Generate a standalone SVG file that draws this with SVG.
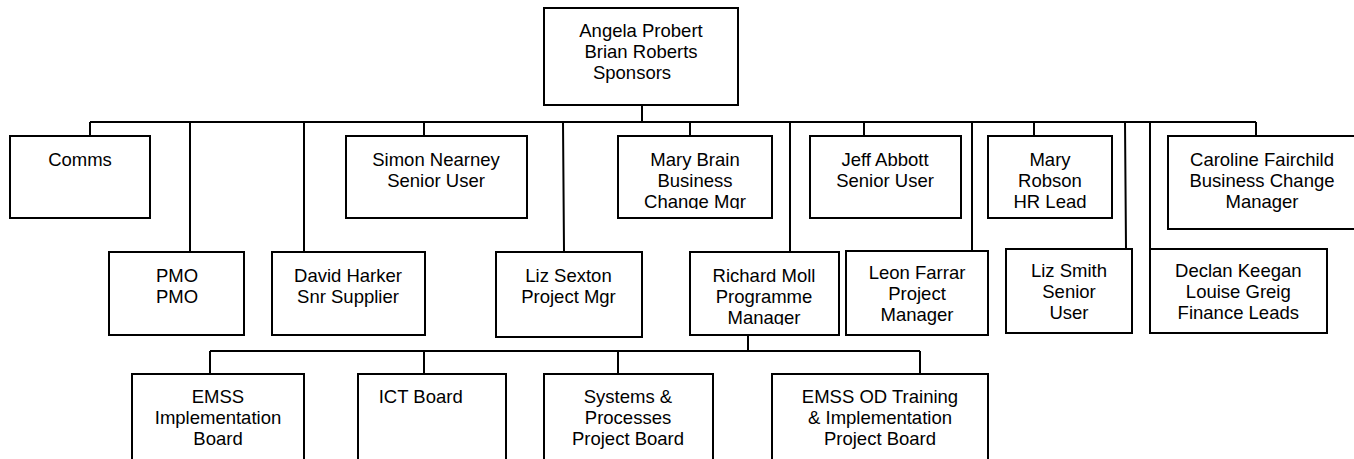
<svg xmlns="http://www.w3.org/2000/svg" width="1354" height="459" viewBox="0 0 1354 459">
<style>
.box{fill:#fff;stroke:#000;stroke-width:2}
.ln{fill:none;stroke:#000;stroke-width:2}
text{font-family:"Liberation Sans",Arial,sans-serif;font-size:18.5px;fill:#000;text-anchor:middle}
</style>
<defs>
<clipPath id="clipMB"><rect x="600" y="130" width="200" height="79"/></clipPath>
<clipPath id="clipRM"><rect x="680" y="245" width="170" height="80"/></clipPath>
</defs>
<rect width="1354" height="459" fill="#fff"/>
<g id="connectors">
<path class="ln" d="M90,122H1256M642,105V122M90,122V136M190,122V252M304,122V252M424,122V136M563,122L564,252M690,122V136M790,122V252M864,122V136M972,122V251M1034,122V136M1125,122L1126,249M1150,122V252M1256,122V136"/>
<path class="ln" d="M748,335V351M210,351H920M210,351V374M424,351V374M618,351V374M920,351V374"/>
</g>
<g id="sponsors"><rect class="box" x="544" y="8" width="194" height="97"/><text><tspan x="641" y="37.3">Angela Probert</tspan><tspan x="641" dy="21">Brian Roberts</tspan><tspan x="632" dy="21">Sponsors</tspan></text></g>
<g id="comms"><rect class="box" x="10" y="136" width="140" height="82"/><text><tspan x="80" y="165.7">Comms</tspan></text></g>
<g id="simon"><rect class="box" x="346" y="136" width="181" height="82"/><text><tspan x="436" y="165.7">Simon Nearney</tspan><tspan x="436" dy="21">Senior User</tspan></text></g>
<g id="marybrain"><rect class="box" x="618" y="136" width="154" height="82"/><text clip-path="url(#clipMB)"><tspan x="695" y="165.7">Mary Brain</tspan><tspan x="695" dy="21">Business</tspan><tspan x="695" dy="21">Change Mgr</tspan></text></g>
<g id="jeff"><rect class="box" x="810" y="136" width="151" height="82"/><text><tspan x="885" y="165.7">Jeff Abbott</tspan><tspan x="885" dy="21">Senior User</tspan></text></g>
<g id="maryrobson"><rect class="box" x="988" y="136" width="124" height="82"/><text><tspan x="1050" y="165.7">Mary</tspan><tspan x="1050" dy="21">Robson</tspan><tspan x="1050" dy="21">HR Lead</tspan></text></g>
<g id="caroline"><rect class="box" x="1168" y="136" width="188" height="93"/><text><tspan x="1262" y="165.7">Caroline Fairchild</tspan><tspan x="1262" dy="21">Business Change</tspan><tspan x="1262" dy="21">Manager</tspan></text></g>
<g id="pmo"><rect class="box" x="109" y="252" width="135" height="83"/><text><tspan x="177" y="281.7">PMO</tspan><tspan x="177" dy="21">PMO</tspan></text></g>
<g id="david"><rect class="box" x="272" y="252" width="153" height="83"/><text><tspan x="348" y="281.7">David Harker</tspan><tspan x="348" dy="21">Snr Supplier</tspan></text></g>
<g id="lizsexton"><rect class="box" x="496" y="252" width="146" height="85"/><text><tspan x="568.5" y="281.7">Liz Sexton</tspan><tspan x="568.5" dy="21">Project Mgr</tspan></text></g>
<g id="richard"><rect class="box" x="690" y="252" width="149" height="83"/><text clip-path="url(#clipRM)"><tspan x="764" y="281.7">Richard Moll</tspan><tspan x="764" dy="21">Programme</tspan><tspan x="764" dy="21">Manager</tspan></text></g>
<g id="leon"><rect class="box" x="846" y="251" width="142" height="84"/><text><tspan x="917" y="279">Leon Farrar</tspan><tspan x="917" dy="21">Project</tspan><tspan x="917" dy="21">Manager</tspan></text></g>
<g id="lizsmith"><rect class="box" x="1006" y="249" width="126" height="84"/><text><tspan x="1069" y="277.3">Liz Smith</tspan><tspan x="1069" dy="21">Senior</tspan><tspan x="1069" dy="21">User</tspan></text></g>
<g id="declan"><rect class="box" x="1150" y="249" width="177" height="84"/><text><tspan x="1238.3" y="277.3">Declan Keegan</tspan><tspan x="1238.3" dy="21">Louise Greig</tspan><tspan x="1238.3" dy="21">Finance Leads</tspan></text></g>
<g id="emss"><rect class="box" x="132" y="374" width="172" height="100"/><text><tspan x="218" y="403.3">EMSS</tspan><tspan x="218" dy="21">Implementation</tspan><tspan x="218" dy="21">Board</tspan></text></g>
<g id="ict"><rect class="box" x="358" y="374" width="148" height="100"/><text><tspan x="420.7" y="403.3">ICT Board</tspan></text></g>
<g id="systems"><rect class="box" x="544" y="374" width="169" height="100"/><text><tspan x="628" y="403.3">Systems &amp;</tspan><tspan x="628" dy="21">Processes</tspan><tspan x="628" dy="21">Project Board</tspan></text></g>
<g id="emssod"><rect class="box" x="772" y="374" width="216" height="100"/><text><tspan x="880" y="403.3">EMSS OD Training</tspan><tspan x="880" dy="21">&amp; Implementation</tspan><tspan x="880" dy="21">Project Board</tspan></text></g>
</svg>
